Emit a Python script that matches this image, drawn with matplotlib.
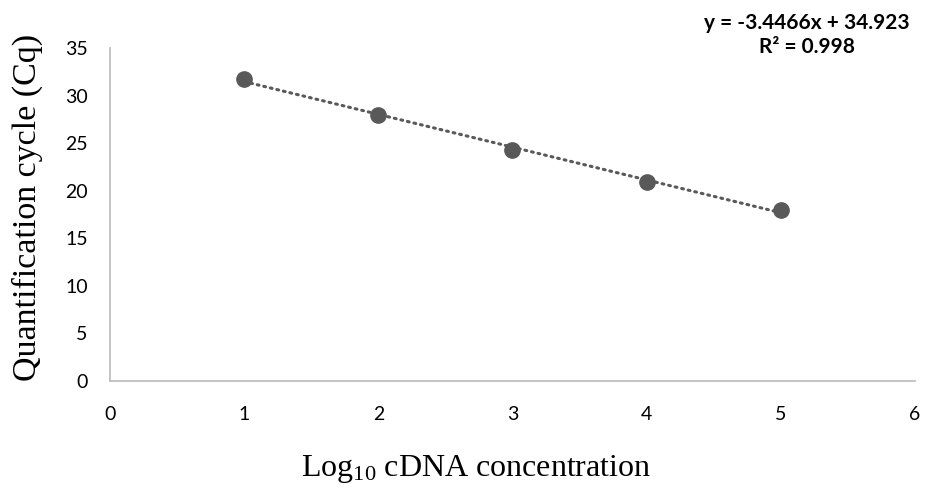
import matplotlib
matplotlib.use("Agg")
import matplotlib.pyplot as plt
import numpy as np

plt.rcParams["mathtext.fontset"] = "custom"
plt.rcParams["mathtext.rm"] = "Liberation Serif"
plt.rcParams["mathtext.it"] = "Liberation Serif:italic"

# standard curve: log10 cDNA concentration vs Cq
log_conc = [1, 2, 3, 4, 5]
cq = [31.7, 27.95, 24.3, 20.95, 17.95]

# linear trendline as reported
slope = -3.4466
intercept = 34.923
r2 = 0.998

grey = "#595959"
axis_grey = "#bfbfbf"

fig = plt.figure(figsize=(9.26, 4.92), dpi=100)
ax = fig.add_axes([0.1188, 0.2256, 0.8692, 0.6768])

xs = np.array([min(log_conc), max(log_conc)])
ax.plot(xs, slope * xs + intercept, linestyle=(0, (0.6, 1.6)), color=grey,
        linewidth=2.2, dash_capstyle="round", zorder=2)
ax.plot(log_conc, cq, "o", color=grey, markersize=11, zorder=3)

ax.set_xlim(0, 6)
ax.set_ylim(0, 35)
ax.set_xticks(range(0, 7))
ax.set_yticks(range(0, 36, 5))

for side in ("top", "right"):
    ax.spines[side].set_visible(False)
for side in ("left", "bottom"):
    ax.spines[side].set_color(axis_grey)
    ax.spines[side].set_linewidth(1.3)
ax.tick_params(length=0, labelsize=14, colors="black")
ax.tick_params(axis="x", pad=18)
ax.tick_params(axis="y", pad=16)
for lab in ax.get_xticklabels() + ax.get_yticklabels():
    lab.set_family("Lato")

ax.set_ylabel("Quantification cycle (Cq)", family="Liberation Serif",
              fontsize=24.5)
ax.yaxis.set_label_coords(-0.083, 0.52)
ax.set_xlabel(r"Log$_{10}$ cDNA concentration", family="Liberation Serif",
              fontsize=23)
ax.xaxis.set_label_coords(0.455, -0.215)

fig.text(0.8715, 0.929, f"y = {slope}x + {intercept}\nR² = {r2}",
         ha="center", va="center", family="Lato", fontweight="bold",
         fontsize=15, linespacing=1.25)

fig.savefig("out.png", dpi=100)
